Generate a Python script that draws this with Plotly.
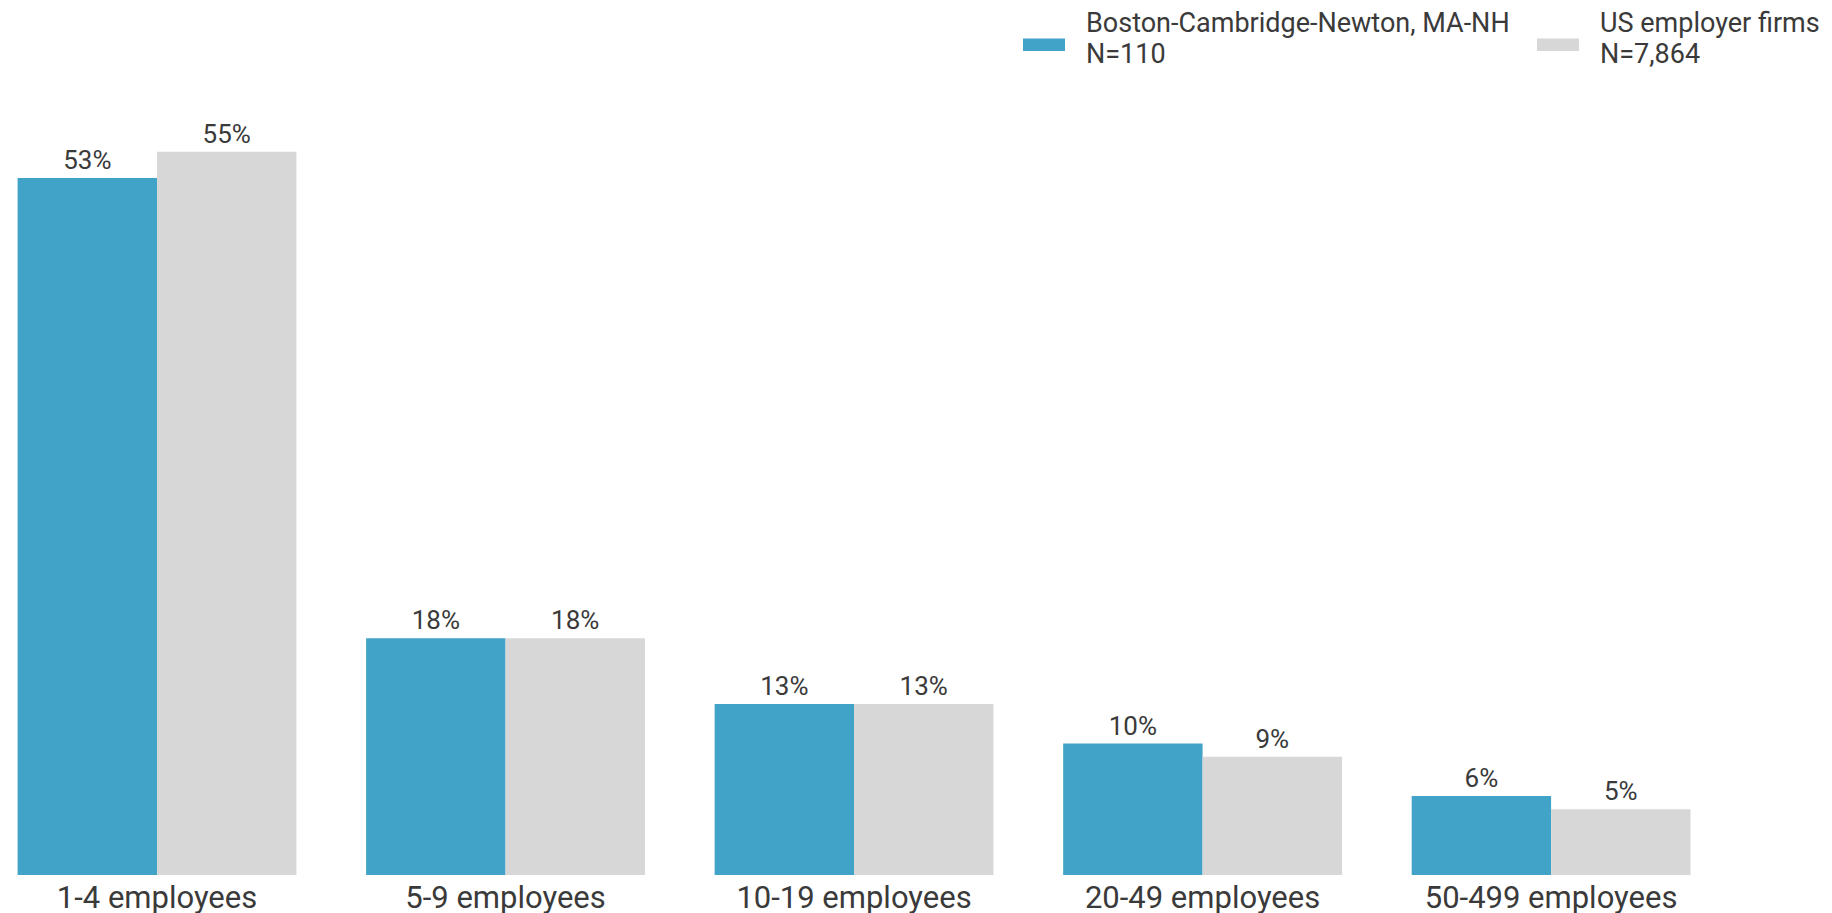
import plotly.graph_objects as go

categories = ["1-4 employees", "5-9 employees", "10-19 employees", "20-49 employees", "50-499 employees"]
boston_values = [53, 18, 13, 10, 6]
us_values = [55, 18, 13, 9, 5]
boston_name = "Boston-Cambridge-Newton, MA-NH"
boston_n = "N=110"
us_name = "US employer firms"
us_n = "N=7,864"

BLUE = "#42A3C8"
GRAY = "#D7D7D7"
TXT = "#3a3a3a"
FONT = "Roboto, Arial, sans-serif"

W, H = 1832, 913
ML, MR, MT, MB = 0, 0, 100, 38
PH = H - MT - MB


def px_y(py):
    return (H - MB - py) / PH


def px_x(px):
    return (px - ML) / (W - ML - MR)


fig = go.Figure()
for name, vals, col in [(boston_name, boston_values, BLUE), (us_name, us_values, GRAY)]:
    fig.add_trace(go.Bar(
        x=categories, y=vals, name=name, marker=dict(color=col, line=dict(width=0)),
        text=[f"{v}%" for v in vals], textposition="outside",
        textfont=dict(size=26, color=TXT, family=FONT), cliponaxis=False,
        showlegend=False,
    ))

# custom legend
legend_items = [(BLUE, boston_name, boston_n, 1023, 1084), (GRAY, us_name, us_n, 1537, 1598)]
for col, l1, l2, sx, tx in legend_items:
    fig.add_shape(type="rect", xref="paper", yref="paper",
                  x0=px_x(sx), x1=px_x(sx + 42), y0=px_y(51), y1=px_y(38.5),
                  fillcolor=col, line=dict(width=0), layer="above")
    for txt, cy in [(l1, 23.4), (l2, 53.7)]:
        fig.add_annotation(text=txt, xref="paper", yref="paper", x=px_x(tx), y=px_y(cy),
                           xanchor="left", yanchor="middle", showarrow=False,
                           font=dict(size=27, color=TXT, family=FONT))

fig.update_layout(
    width=W, height=H,
    margin=dict(l=ML, r=MR, t=MT, b=MB, pad=0),
    barmode="group", bargap=0.2, bargroupgap=0,
    plot_bgcolor="white", paper_bgcolor="white",
    font=dict(family=FONT, color=TXT),
    xaxis=dict(range=[-0.4505, 4.806], showgrid=False, zeroline=False, showline=False,
               ticks="", ticklabelstandoff=1, automargin=False,
               tickfont=dict(size=31, color=TXT, family=FONT)),
    yaxis=dict(range=[0, PH / 13.15], visible=False, showgrid=False, zeroline=False),
)

fig.write_html("out.html", config={"displayModeBar": False},
               post_script="document.body.style.margin='0';document.body.style.overflow='hidden';")
